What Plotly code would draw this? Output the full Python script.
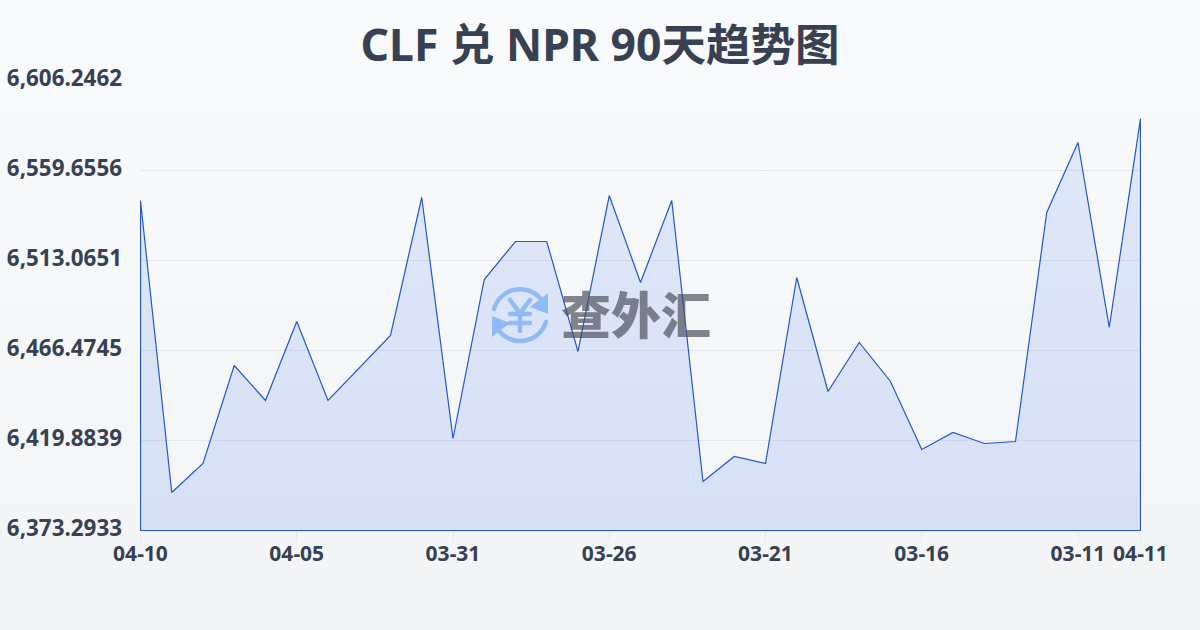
import base64
import plotly.graph_objects as go

TITLE = "CLF 兑 NPR 90天趋势图"
dates = ["04-10","04-09","04-08","04-07","04-06","04-05","04-04","04-03","04-02","04-01",
         "03-31","03-30","03-29","03-28","03-27","03-26","03-25","03-24","03-23","03-22",
         "03-21","03-20","03-19","03-18","03-17","03-16","03-15","03-14","03-13","03-12",
         "03-11","03-10","04-11"]
rates = [6544.13,6392.97,6407.98,6458.71,6440.59,6481.49,6440.59,6457.67,6474.24,6545.68,
         6420.92,6503.23,6522.90,6522.90,6465.96,6546.71,6501.68,6544.13,6398.66,6411.60,
         6407.98,6504.27,6445.25,6470.62,6450.43,6415.22,6424.03,6418.33,6419.37,6537.91,
         6574.15,6478.38,6586.57]
y_ticks = [6373.2933,6419.8839,6466.4745,6513.0651,6559.6556,6606.2462]
y_labels = ["6,373.2933","6,419.8839","6,466.4745","6,513.0651","6,559.6556","6,606.2462"]
x_ticks = ["04-10","04-05","03-31","03-26","03-21","03-16","03-11","04-11"]

INK = "#374151"
BLUE = "#2456c8"
FONT = "Noto Sans, Noto Sans CJK SC, sans-serif"
PW, PH = 1001, 451  # plot area in pixels; half a pixel of padding keeps the border lines crisp
x_pad = 0.5 * (len(dates) - 1) / 1000
y_pad = 0.5 * (y_ticks[-1] - y_ticks[0]) / 450

def data_uri(svg):
    return "data:image/svg+xml;base64," + base64.b64encode(svg.encode()).decode()

bg_svg = ('<svg xmlns="http://www.w3.org/2000/svg" width="1200" height="630" preserveAspectRatio="none">'
          '<defs><linearGradient id="g" x1="0" y1="0" x2="0" y2="1">'
          '<stop offset="0" stop-color="#f8fafc"/><stop offset="1" stop-color="#f3f4f6"/>'
          '</linearGradient></defs><rect width="1200" height="630" fill="url(#g)"/></svg>')

logo_svg = ('<svg xmlns="http://www.w3.org/2000/svg" viewBox="0 0 60 60" width="60" height="60">'
            '<g fill="none" stroke="#8db8f8" stroke-width="4.5" stroke-linecap="round">'
            '<path d="M4 24 A27 27 0 0 1 50 13"/><path d="M56 37 A27 27 0 0 1 10 47"/>'
            '<path d="M20 15 L30 28 L40 15 M30 28 V46 M20 29 H40 M20 38 H40"/></g>'
            '<path d="M58 8 V29 L40 22 Z M2 31 V52 L20 38 Z" fill="#8db8f8"/></svg>')

fig = go.Figure()
fig.add_trace(go.Scatter(
    x=dates + [dates[-1], dates[0], dates[0]],
    y=rates + [y_ticks[0], y_ticks[0], rates[0]],
    mode="lines",
    line=dict(color=BLUE, width=1.2),
    fill="toself",
    fillgradient=dict(type="vertical",
                      colorscale=[[0, "rgba(37,99,235,0.14)"], [1, "rgba(37,99,235,0.11)"]]),
    hoverinfo="skip",
    showlegend=False,
    cliponaxis=False,
))

fig.update_layout(
    width=1200, height=630,
    margin=dict(l=140, r=59, t=80, b=99),
    paper_bgcolor="#f6f8fa",
    plot_bgcolor="rgba(0,0,0,0)",
    font=dict(family=FONT, color=INK),
    showlegend=False,
    title=dict(text=TITLE, x=0.5, xanchor="center", y=0.928, yanchor="middle",
               font=dict(family=FONT, size=44.5, color=INK, weight=700),
               automargin=False),
    xaxis=dict(
        type="category", categoryorder="array", categoryarray=dates,
        range=[-x_pad, len(dates) - 1 + x_pad], automargin=False,
        tickmode="array", tickvals=x_ticks, ticktext=x_ticks,
        ticks="outside", ticklen=10, tickwidth=1, tickcolor="#e5e7eb",
        ticklabelstandoff=-6,
        tickfont=dict(family=FONT, size=21, color=INK, weight=700),
        showgrid=False, zeroline=False, showline=False,
    ),
    yaxis=dict(
        range=[y_ticks[0] - y_pad, y_ticks[-1] + y_pad], automargin=False,
        tickmode="array", tickvals=y_ticks, ticktext=y_labels,
        ticks="", ticklabelstandoff=17, ticklabelshift=-2,
        tickfont=dict(family=FONT, size=22.4, color=INK, weight=700),
        showgrid=True, gridcolor="#e5e7eb", gridwidth=1,
        zeroline=False, showline=False,
    ),
    images=[
        dict(source=data_uri(bg_svg), xref="paper", yref="paper", x=-140/PW, y=1+80/PH,
             sizex=1200/PW, sizey=630/PH, xanchor="left", yanchor="top",
             sizing="stretch", layer="below"),
        dict(source=data_uri(logo_svg), xref="paper", yref="paper", x=350/PW, y=1-205/PH,
             sizex=60/PW, sizey=60/PH, xanchor="left", yanchor="top",
             sizing="contain", layer="above", opacity=0.95),
    ],
    annotations=[dict(text="查外汇", xref="paper", yref="paper", x=496/PW, y=1-232/PH,
                      xanchor="center", yanchor="middle", showarrow=False, opacity=0.68,
                      font=dict(family="Noto Sans CJK SC", size=50, color="#4a4f5a", weight=900))],
)
fig.write_html("out.html", config={"displayModeBar": False},
               post_script="document.body.style.margin='0';")
